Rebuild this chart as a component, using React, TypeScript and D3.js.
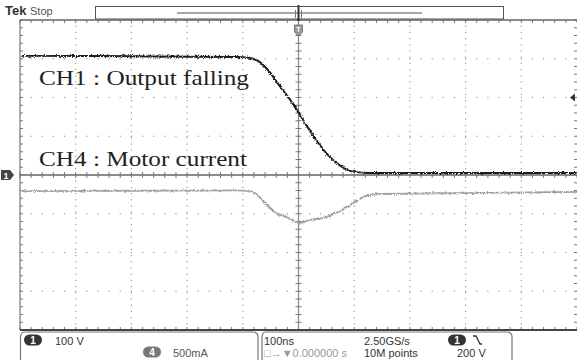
import React, { useEffect, useRef } from 'react';
import * as d3 from 'd3';

// CH1 waveform: time (ns) vs volts
const ch1Time = [-500, -300, -114, -91, -73, -55, -37, -18, 0, 12, 30, 48, 66, 83, 101, 125, 300, 500];
const ch1Volts = [310, 309, 307, 305, 296, 271, 235, 199, 160, 132, 93, 59, 34, 18, 10, 8, 8, 8];

// CH4 waveform: time (ns) vs mA
const ch4Time = [-500, -300, -114, -87, -78, -60, -42, -19, 0, 17, 42, 66, 89, 114, 125, 150, 300, 500];
const ch4Current = [-194, -190, -185, -194, -232, -361, -477, -542, -606, -568, -542, -477, -387, -271, -245, -232, -220, -206];

const ch1Scale = 100; // V/div
const ch4Scale = 500; // mA/div

const labels = ['CH1 : Output falling', 'CH4 : Motor current'];

const W = 577;
const H = 360;

const App: React.FC = () => {
  const svgRef = useRef<SVGSVGElement>(null);

  useEffect(() => {
    if (!svgRef.current) return;
    const svg = d3.select(svgRef.current);
    svg.selectAll('*').remove();

    const x = d3.scaleLinear().domain([-500, 500]).range([20, 577]);
    const y = d3.scaleLinear().domain([-4, 4]).range([330, 20]);

    svg.append('rect').attr('width', W).attr('height', H).attr('fill', '#fff');

    const defs = svg.append('defs');
    const f = defs.append('filter').attr('id', 'noise').attr('x', '-5%').attr('y', '-20%').attr('width', '110%').attr('height', '140%');
    f.append('feTurbulence').attr('type', 'turbulence').attr('baseFrequency', 0.9).attr('numOctaves', 1).attr('seed', 3).attr('result', 't');
    f.append('feDisplacementMap').attr('in', 'SourceGraphic').attr('in2', 't').attr('scale', 3).attr('xChannelSelector', 'R').attr('yChannelSelector', 'G');

    const grid = svg.append('g');
    const dotColor = '#9a9a9a';

    // dotted grid lines
    for (let i = -4; i <= 4; i++) {
      if (i === 0) continue;
      for (let k = -25; k <= 25; k++) {
        grid.append('rect').attr('x', x(i * 100) - 0.6).attr('y', y(k / 5 * 0.8) - 0.6)
          .attr('width', 1.2).attr('height', 1.2).attr('fill', dotColor);
      }
    }
    for (let j = -3; j <= 3; j++) {
      if (j === 0) continue;
      for (let k = -25; k <= 25; k++) {
        grid.append('rect').attr('x', x(k * 20) - 0.6).attr('y', y(j) - 0.6)
          .attr('width', 1.2).attr('height', 1.2).attr('fill', dotColor);
      }
    }

    // center crosshair with ticks
    grid.append('line').attr('x1', x(0)).attr('x2', x(0)).attr('y1', y(4)).attr('y2', y(-4))
      .attr('stroke', '#888').attr('stroke-width', 1.2);
    grid.append('line').attr('x1', x(-500)).attr('x2', W).attr('y1', y(0)).attr('y2', y(0))
      .attr('stroke', '#666').attr('stroke-width', 1.5);
    for (let k = -25; k <= 25; k++) {
      grid.append('line').attr('x1', x(k * 20)).attr('x2', x(k * 20)).attr('y1', y(0) - 3).attr('y2', y(0) + 3)
        .attr('stroke', '#777').attr('stroke-width', 1);
    }
    for (let k = -20; k <= 20; k++) {
      grid.append('line').attr('x1', x(0) - 3).attr('x2', x(0) + 3).attr('y1', y(k / 5)).attr('y2', y(k / 5))
        .attr('stroke', '#777').attr('stroke-width', 1);
    }

    // border ticks
    for (let k = -25; k <= 25; k++) {
      grid.append('line').attr('x1', x(k * 20)).attr('x2', x(k * 20)).attr('y1', y(4)).attr('y2', y(4) + 3)
        .attr('stroke', '#777');
      grid.append('line').attr('x1', x(k * 20)).attr('x2', x(k * 20)).attr('y1', y(-4)).attr('y2', y(-4) - 3)
        .attr('stroke', '#777');
    }
    for (let k = -20; k <= 20; k++) {
      grid.append('line').attr('x1', x(-500)).attr('x2', x(-500) + 3).attr('y1', y(k / 5)).attr('y2', y(k / 5))
        .attr('stroke', '#777');
      grid.append('line').attr('x1', W - 3).attr('x2', W).attr('y1', y(k / 5)).attr('y2', y(k / 5))
        .attr('stroke', '#777');
    }

    // border
    grid.append('line').attr('x1', x(-500)).attr('x2', W).attr('y1', y(4)).attr('y2', y(4)).attr('stroke', '#666').attr('stroke-width', 1.5);
    grid.append('line').attr('x1', x(-500)).attr('x2', x(-500)).attr('y1', y(4)).attr('y2', y(-4)).attr('stroke', '#777').attr('stroke-width', 1.2);
    grid.append('line').attr('x1', x(-500)).attr('x2', W).attr('y1', y(-4)).attr('y2', y(-4)).attr('stroke', '#444').attr('stroke-width', 2.2);

    // traces
    const line1 = d3.line<number>().x((_, i) => x(ch1Time[i])).y(d => y(d / ch1Scale)).curve(d3.curveMonotoneX);
    const line4 = d3.line<number>().x((_, i) => x(ch4Time[i])).y(d => y(d / ch4Scale)).curve(d3.curveMonotoneX);

    svg.append('path').datum(ch4Current).attr('d', line4).attr('fill', 'none')
      .attr('stroke', '#a0a0a0').attr('stroke-width', 1.8).attr('filter', 'url(#noise)');
    svg.append('path').datum(ch1Volts).attr('d', line1).attr('fill', 'none')
      .attr('stroke', '#1e1e1e').attr('stroke-width', 2).attr('filter', 'url(#noise)');

    // annotations
    const serif = "'Liberation Serif', 'DejaVu Serif', serif";
    svg.append('text').attr('x', 39).attr('y', 85).attr('font-family', serif).attr('font-size', 21)
      .attr('fill', '#222').attr('textLength', 210).attr('lengthAdjust', 'spacingAndGlyphs').text(labels[0]);
    svg.append('text').attr('x', 39).attr('y', 166).attr('font-family', serif).attr('font-size', 21)
      .attr('fill', '#222').attr('textLength', 208).attr('lengthAdjust', 'spacingAndGlyphs').text(labels[1]);

    // top header
    const sans = "'Liberation Sans', Arial, sans-serif";
    svg.append('text').attr('x', 5).attr('y', 15).attr('font-family', sans).attr('font-weight', 'bold')
      .attr('font-size', 13).attr('fill', '#333').text('Tek');
    svg.append('text').attr('x', 30).attr('y', 15).attr('font-family', sans)
      .attr('font-size', 11).attr('fill', '#555').text('Stop');
    svg.append('rect').attr('x', 95.5).attr('y', 6.5).attr('width', 408).attr('height', 12.5)
      .attr('fill', '#fff').attr('stroke', '#555');
    svg.append('line').attr('x1', 177).attr('x2', 422).attr('y1', 13).attr('y2', 13)
      .attr('stroke', '#888').attr('stroke-width', 1.5);
    svg.append('line').attr('x1', x(0)).attr('x2', x(0)).attr('y1', 5).attr('y2', 21)
      .attr('stroke', '#333').attr('stroke-width', 2);
    svg.append('path').attr('d', `M${x(0) - 3},10 L${x(0) - 3},18 M${x(0) + 3},10 L${x(0) + 3},18`)
      .attr('stroke', '#777').attr('stroke-width', 1);

    // trigger position marker
    const tx = x(0);
    svg.append('path').attr('d', `M${tx - 4},25 h8 v7 l-4,4 l-4,-4 z`).attr('fill', '#999').attr('stroke', '#777');
    svg.append('text').attr('x', tx).attr('y', 32).attr('text-anchor', 'middle').attr('font-family', sans)
      .attr('font-size', 7).attr('font-weight', 'bold').attr('fill', '#fff').text('T');

    // ground marker
    const gy = y(0);
    svg.append('path').attr('d', `M1,${gy - 5} h9 l4,5 l-4,5 h-9 z`).attr('fill', '#444');
    svg.append('text').attr('x', 6).attr('y', gy + 3.5).attr('text-anchor', 'middle').attr('font-family', sans)
      .attr('font-size', 9).attr('font-weight', 'bold').attr('fill', '#fff').text('1');

    // trigger level marker
    const ty = y(2);
    svg.append('path').attr('d', `M570,${ty} l5,-4 v8 z`).attr('fill', '#333');

    // bottom status
    svg.append('path').attr('d', 'M20.5,366 V337 Q20.5,332 25,332 H253 Q258,332 258,337 V366')
      .attr('fill', 'none').attr('stroke', '#777').attr('stroke-width', 1.2);
    svg.append('path').attr('d', 'M262,366 V337 Q262,332 266,332 H507 Q512,332 512,337 V366')
      .attr('fill', 'none').attr('stroke', '#777').attr('stroke-width', 1.2);

    const badge = (cx: number, cy: number, label: string, fill: string) => {
      svg.append('rect').attr('x', cx - 9).attr('y', cy - 5.5).attr('width', 18).attr('height', 11).attr('rx', 5.5)
        .attr('fill', fill);
      svg.append('text').attr('x', cx).attr('y', cy + 4).attr('text-anchor', 'middle').attr('font-family', sans)
        .attr('font-size', 10).attr('font-weight', 'bold').attr('fill', '#fff').text(label);
    };
    badge(33, 340, '1', '#333');
    badge(152, 352, '4', '#777');
    badge(457, 340, '1', '#333');

    const status = (tx: number, ty: number, s: string, fill = '#333') =>
      svg.append('text').attr('x', tx).attr('y', ty).attr('font-family', sans).attr('font-size', 11)
        .attr('fill', fill).text(s);
    status(55, 345, '100 V');
    status(173, 357, '500mA', '#555');
    status(264, 345, '100ns');
    status(264, 357, '\u25a1\u2192\u25bc0.000000 s', '#999');
    status(364, 345, '2.50GS/s');
    status(364, 357, '10M points');
    status(457, 357, '200 V');
    svg.append('path').attr('d', 'M473,336 h3 l4,8 h2').attr('fill', 'none').attr('stroke', '#333').attr('stroke-width', 1.3);
  }, []);

  return (
    <div style={{ position: 'fixed', left: 0, top: 0 }}>
      <svg ref={svgRef} width={W} height={H} />
    </div>
  );
};

export default App;
